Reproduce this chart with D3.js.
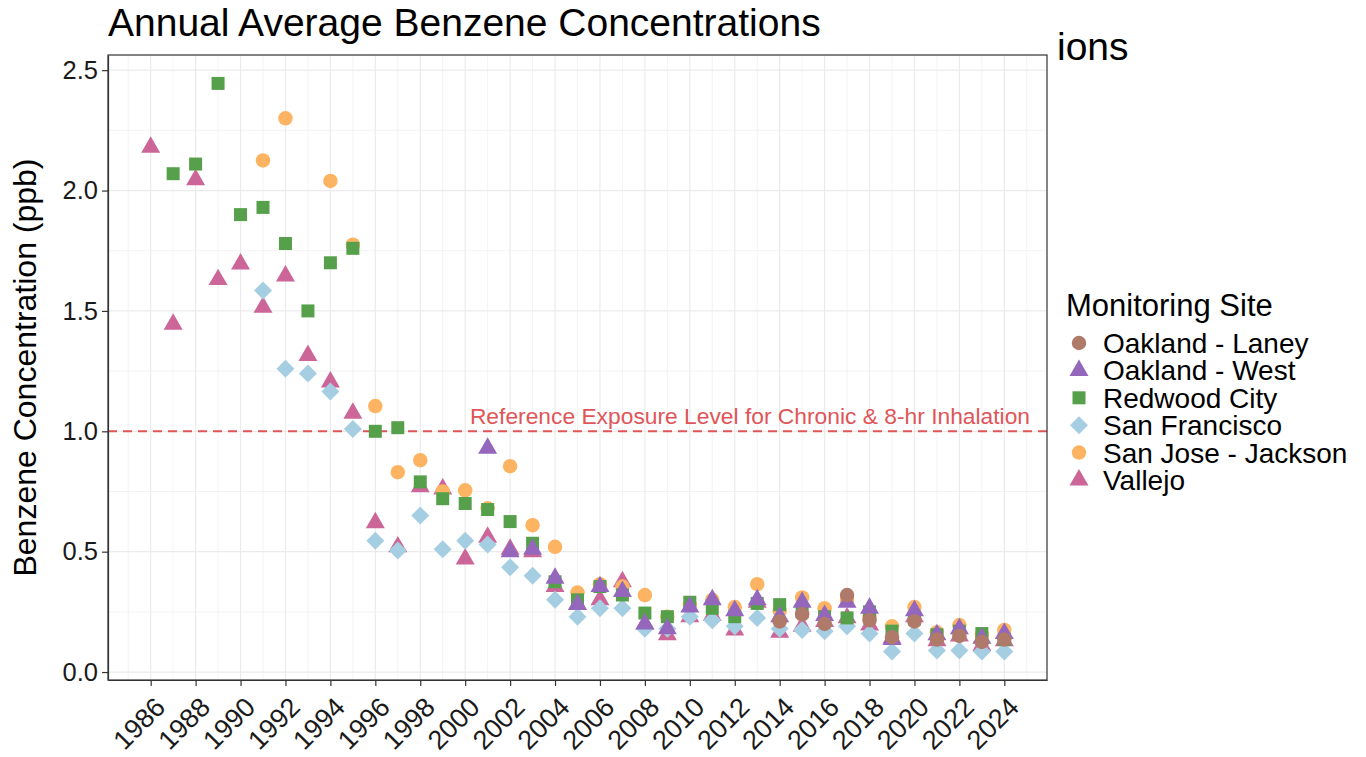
<!DOCTYPE html>
<html>
<head>
<meta charset="utf-8">
<script src="https://cdn.jsdelivr.net/npm/d3@7"></script>
<style>
  html, body { margin: 0; padding: 0; background: #fff; }
  svg { display: block; font-family: "Liberation Sans", Arial, Helvetica, sans-serif; }
</style>
</head>
<body>
<svg id="chart" width="1366" height="757"></svg>
<script>
// ---- data ----
const sites = ["Oakland - Laney", "Oakland - West", "Redwood City", "San Francisco", "San Jose - Jackson", "Vallejo"];
const siteColors = ["#B07A6A", "#9467BD", "#56A04B", "#A6CEE3", "#FDB462", "#CC6699"];

const laneyYears = [2014,2015,2016,2017,2018,2019,2020,2021,2022,2023,2024];
const laneyValues = [0.21,0.24,0.20,0.32,0.215,0.145,0.21,0.135,0.15,0.125,0.135];

const westYears = [2001,2002,2003,2004,2005,2006,2007,2008,2009,2010,2011,2012,2013,2014,2015,2016,2017,2018,2019,2020,2021,2022,2023,2024];
const westValues = [0.93,0.50,0.51,0.39,0.28,0.355,0.335,0.20,0.18,0.27,0.30,0.255,0.30,0.23,0.29,0.235,0.29,0.265,0.135,0.255,0.155,0.18,0.14,0.16];

const redwoodYears = [1987,1988,1989,1990,1991,1992,1993,1994,1995,1996,1997,1998,1999,2000,2001,2002,2003,2004,2005,2006,2007,2008,2009,2010,2011,2012,2013,2014,2015,2016,2017,2018,2019,2020,2021,2022,2023,2024];
const redwoodValues = [2.07,2.11,2.445,1.90,1.93,1.78,1.50,1.70,1.76,1.00,1.015,0.79,0.72,0.70,0.675,0.625,0.535,0.375,0.30,0.355,0.32,0.245,0.23,0.29,0.265,0.23,0.285,0.28,0.25,0.23,0.225,0.25,0.17,0.22,0.155,0.17,0.16,0.135];

const sfYears = [1991,1992,1993,1994,1995,1996,1997,1998,1999,2000,2001,2002,2003,2004,2005,2006,2007,2008,2009,2010,2011,2012,2013,2014,2015,2016,2017,2018,2019,2020,2021,2022,2023,2024];
const sfValues = [1.585,1.26,1.24,1.165,1.01,0.545,0.505,0.65,0.51,0.545,0.53,0.435,0.40,0.30,0.23,0.265,0.265,0.18,0.18,0.23,0.215,0.19,0.225,0.18,0.175,0.17,0.19,0.16,0.085,0.16,0.09,0.09,0.085,0.085];

const sanJoseYears = [1991,1992,1994,1995,1996,1997,1998,1999,2000,2001,2002,2003,2004,2005,2006,2007,2008,2009,2010,2011,2012,2013,2014,2015,2016,2017,2018,2019,2020,2021,2022,2023,2024];
const sanJoseValues = [2.125,2.30,2.04,1.775,1.105,0.83,0.88,0.75,0.755,0.68,0.855,0.61,0.52,0.33,0.365,0.355,0.32,0.23,0.28,0.30,0.27,0.365,0.255,0.31,0.265,0.30,0.23,0.19,0.27,0.165,0.195,0.155,0.175];

const vallejoYears = [1986,1987,1988,1989,1990,1991,1992,1993,1994,1995,1996,1997,1998,1999,2000,2001,2002,2003,2004,2005,2006,2007,2008,2009,2010,2011,2012,2013,2014,2015,2016,2017,2018,2019,2020,2021,2022,2023,2024];
const vallejoValues = [2.18,1.445,2.045,1.63,1.695,1.515,1.645,1.315,1.205,1.075,0.62,0.52,0.77,0.76,0.47,0.56,0.51,0.50,0.355,0.28,0.30,0.375,0.20,0.155,0.23,0.235,0.175,0.29,0.165,0.19,0.21,0.225,0.195,0.14,0.23,0.13,0.15,0.11,0.13];

const xTickYears = d3.range(1986, 2025, 2);
const yTickValues = [0, 0.5, 1.0, 1.5, 2.0, 2.5];
const referenceLevel = 1.0;
const referenceLabel = "Reference Exposure Level for Chronic & 8-hr Inhalation";
const titleText = "Annual Average Benzene Concentrations";
const strayText = "ions";
const yLabel = "Benzene Concentration (ppb)";
const legendTitle = "Monitoring Site";

// ---- build rows ----
const seriesYears = [laneyYears, westYears, redwoodYears, sfYears, sanJoseYears, vallejoYears];
const seriesValues = [laneyValues, westValues, redwoodValues, sfValues, sanJoseValues, vallejoValues];
const rows = [];
sites.forEach((s, i) => seriesYears[i].forEach((yr, j) => rows.push({site: s, idx: i, year: yr, value: seriesValues[i][j]})));

// ---- symbols ----
const diamondType = { draw(ctx, size) { const r = Math.sqrt(size / 2); ctx.moveTo(0, -r); ctx.lineTo(r, 0); ctx.lineTo(0, r); ctx.lineTo(-r, 0); ctx.closePath(); } };
const siteShapes = [d3.symbolCircle, d3.symbolTriangle, d3.symbolSquare, diamondType, d3.symbolCircle, d3.symbolTriangle];
const siteSizes = [165, 156, 169, 162, 165, 156];
const symbolPath = i => d3.symbol().type(siteShapes[i]).size(siteSizes[i])();

// ---- layout ----
const svg = d3.select("#chart");
const P = {left: 108, right: 1047, top: 55, bottom: 680};

const xExt = d3.extent(rows, d => d.year);
const xPad = (xExt[1] - xExt[0]) * 0.05;
const x = d3.scaleLinear().domain([xExt[0] - xPad, xExt[1] + xPad]).range([P.left, P.right]);
const yExt = d3.extent(rows, d => d.value);
const yPad = (yExt[1] - yExt[0]) * 0.05;
const y = d3.scaleLinear().domain([yExt[0] - yPad, yExt[1] + yPad]).range([P.bottom, P.top]);

// grid
const g = svg.append("g");
const minorX = d3.range(1985, 2026, 2).filter(v => x(v) > P.left && x(v) < P.right);
const minorY = [0.25, 0.75, 1.25, 1.75, 2.25];
g.selectAll(".mx").data(minorX).enter().append("line")
  .attr("x1", d => x(d)).attr("x2", d => x(d)).attr("y1", P.top).attr("y2", P.bottom)
  .attr("stroke", "#EBEBEB").attr("stroke-width", 0.6);
g.selectAll(".my").data(minorY).enter().append("line")
  .attr("y1", d => y(d)).attr("y2", d => y(d)).attr("x1", P.left).attr("x2", P.right)
  .attr("stroke", "#EBEBEB").attr("stroke-width", 0.6);
g.selectAll(".Mx").data(xTickYears).enter().append("line")
  .attr("x1", d => x(d)).attr("x2", d => x(d)).attr("y1", P.top).attr("y2", P.bottom)
  .attr("stroke", "#EBEBEB").attr("stroke-width", 1.2);
g.selectAll(".My").data(yTickValues).enter().append("line")
  .attr("y1", d => y(d)).attr("y2", d => y(d)).attr("x1", P.left).attr("x2", P.right)
  .attr("stroke", "#EBEBEB").attr("stroke-width", 1.2);

// reference line
svg.append("line")
  .attr("x1", P.left).attr("x2", P.right).attr("y1", y(referenceLevel)).attr("y2", y(referenceLevel))
  .attr("stroke", "#E05558").attr("stroke-width", 2).attr("stroke-dasharray", "9,6");
svg.append("text")
  .attr("x", 1030).attr("y", y(referenceLevel) - 7)
  .attr("text-anchor", "end").attr("font-size", 22.8).attr("fill", "#E05558")
  .text(referenceLabel);

// points: drawn in order so that Laney ends on top
const drawOrder = [5, 3, 4, 2, 1, 0];
const pts = svg.append("g");
drawOrder.forEach(i => {
  pts.selectAll(null).data(rows.filter(r => r.idx === i)).enter().append("path")
    .attr("d", symbolPath(i))
    .attr("transform", d => `translate(${x(d.year)},${y(d.value)})`)
    .attr("fill", siteColors[i]);
});

// panel border
svg.append("rect").attr("x", P.left).attr("y", P.top)
  .attr("width", P.right - P.left).attr("height", P.bottom - P.top)
  .attr("fill", "none").attr("stroke", "#333").attr("stroke-width", 1.2);

// axes
const xAxis = d3.axisBottom(x).tickValues(xTickYears).tickSizeInner(6).tickSizeOuter(0).tickPadding(4).tickFormat(d3.format("d"));
const xg = svg.append("g").attr("transform", `translate(0,${P.bottom})`).call(xAxis);
xg.select(".domain").attr("stroke", "#333").attr("stroke-width", 1.2);
xg.selectAll(".tick line").attr("stroke", "#333").attr("stroke-width", 1.2);
xg.selectAll(".tick text")
  .attr("font-size", 27).attr("fill", "#1a1a1a").attr("font-family", "Liberation Sans, Arial, sans-serif")
  .attr("text-anchor", "end").attr("dy", "0.72em").attr("y", 0)
  .attr("transform", "translate(2,15) rotate(-45)");

const yAxis = d3.axisLeft(y).tickValues(yTickValues).tickSizeInner(6).tickSizeOuter(0).tickPadding(4).tickFormat(d3.format(".1f"));
const yg = svg.append("g").attr("transform", `translate(${P.left},0)`).call(yAxis);
yg.select(".domain").attr("stroke", "#333").attr("stroke-width", 1.2);
yg.selectAll(".tick line").attr("stroke", "#333").attr("stroke-width", 1.2);
yg.selectAll(".tick text").attr("font-size", 25.5).attr("fill", "#1a1a1a")
  .attr("font-family", "Liberation Sans, Arial, sans-serif");

// titles
svg.append("text").attr("x", 108).attr("y", 36).attr("font-size", 39).attr("fill", "#000").text(titleText);
svg.append("text").attr("x", 1057).attr("y", 60).attr("font-size", 39).attr("fill", "#000").text(strayText);
svg.append("text")
  .attr("transform", `translate(36,${(P.top + P.bottom) / 2}) rotate(-90)`)
  .attr("text-anchor", "middle").attr("font-size", 32).attr("fill", "#000").text(yLabel);

// legend
const lg = svg.append("g");
lg.append("text").attr("x", 1066).attr("y", 316).attr("font-size", 31).attr("fill", "#000").text(legendTitle);
sites.forEach((s, i) => {
  const cy = 343 + i * 27.4;
  lg.append("path").attr("d", symbolPath(i)).attr("transform", `translate(1079,${cy})`).attr("fill", siteColors[i]);
  lg.append("text").attr("x", 1103).attr("y", cy).attr("dy", "0.36em").attr("font-size", 28).attr("fill", "#000").text(s);
});
</script>
</body>
</html>
